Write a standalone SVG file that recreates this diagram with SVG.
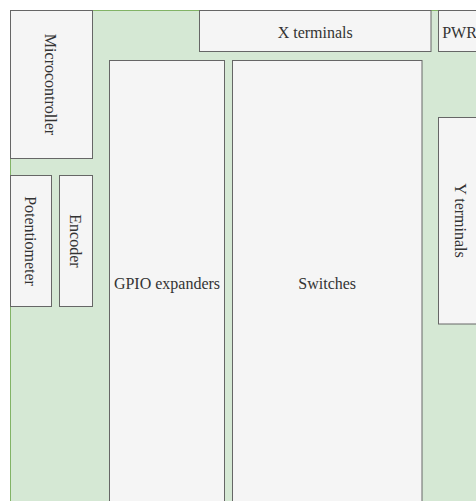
<svg xmlns="http://www.w3.org/2000/svg" width="476" height="501" viewBox="0 0 476 501">
<style>
.bg{fill:#d5e8d4;stroke:#82b366;stroke-width:1}
.box{fill:#f5f5f5;stroke:#666666;stroke-width:1}
.lbl{font-family:"Liberation Serif","Times New Roman",serif;font-size:16px;fill:#333333;text-anchor:middle}
</style>
<rect width="476" height="501" fill="#ffffff"/>
<g id="board"><rect class="bg" x="10.5" y="10.5" width="520" height="520"/></g>
<g id="microcontroller"><rect class="box" x="10.5" y="10.5" width="82" height="148"/><text class="lbl" transform="translate(44.5,84.5) rotate(90)">Microcontroller</text></g>
<g id="potentiometer"><rect class="box" x="10.5" y="175.5" width="41" height="131"/><text class="lbl" transform="translate(25,241) rotate(90)">Potentiometer</text></g>
<g id="encoder"><rect class="box" x="59.5" y="175.5" width="33" height="131"/><text class="lbl" transform="translate(69.5,241) rotate(90)">Encoder</text></g>
<g id="gpio-expanders"><rect class="box" x="109.5" y="60.5" width="115" height="460"/><text class="lbl" x="167" y="289">GPIO expanders</text></g>
<g id="switches"><rect class="box" x="232.5" y="60.5" width="189.5" height="460"/><text class="lbl" x="327.2" y="289">Switches</text></g>
<g id="x-terminals"><rect class="box" x="199.5" y="10.5" width="231.5" height="41"/><text class="lbl" x="315.2" y="37.5">X terminals</text></g>
<g id="pwr"><rect class="box" x="438.5" y="10.5" width="43" height="41"/><text class="lbl" x="459.5" y="37.5">PWR</text></g>
<g id="y-terminals"><rect class="box" x="438.5" y="117.5" width="43" height="206.5"/><text class="lbl" transform="translate(454.5,220.5) rotate(90)">Y terminals</text></g>
</svg>
